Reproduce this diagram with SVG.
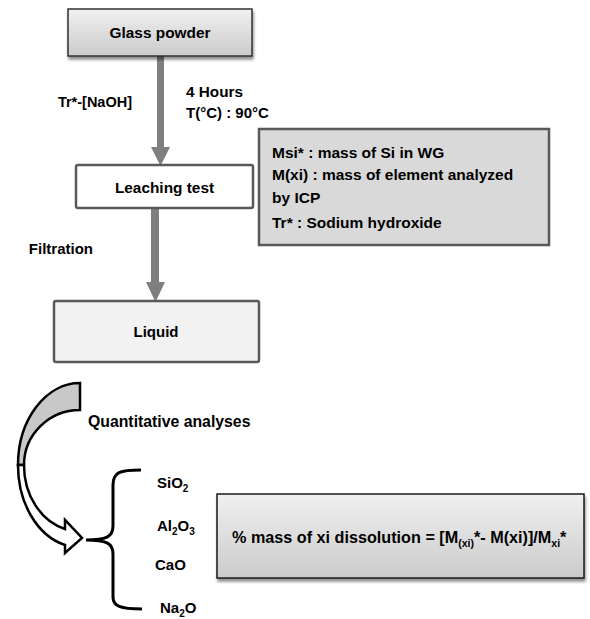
<svg xmlns="http://www.w3.org/2000/svg" width="590" height="619" viewBox="0 0 590 619">
<style>
text{font-family:"Liberation Sans",Arial,sans-serif;font-weight:bold;fill:#000}
.sub{font-size:10px}
.arrow{fill:#7f7f7f}
.box2{stroke:#595959;stroke-width:2.5}
</style>
<defs>
<linearGradient id="g1" x1="0" y1="0" x2="0" y2="1">
<stop offset="0" stop-color="#f0f0f0"/>
<stop offset="1" stop-color="#cbcbcb"/>
</linearGradient>
<filter id="sh" x="-10%" y="-10%" width="130%" height="140%">
<feGaussianBlur in="SourceAlpha" stdDeviation="1.5"/>
<feOffset dx="1" dy="3" result="b"/>
<feComponentTransfer><feFuncA type="linear" slope="0.45"/></feComponentTransfer>
<feMerge><feMergeNode/><feMergeNode in="SourceGraphic"/></feMerge>
</filter>
</defs>
<rect width="590" height="619" fill="#fff"/>

<g id="connectors">
<rect class="arrow" x="157" y="56" width="7" height="93"/>
<polygon class="arrow" points="151,147 170,147 160.5,166"/>
<rect class="arrow" x="151" y="208" width="8" height="76"/>
<polygon class="arrow" points="146,282 165,282 155.5,302"/>
<g id="curved-arrow" stroke="#000" stroke-width="2.5" stroke-linejoin="miter">
<path d="M80,383 A62,82 0 0 0 18,465 L24,465 A56,55 0 0 1 80,410 Z" fill="#c8c8c8"/>
<path d="M18,465 A62,82 0 0 0 65,545 L65,553 L82,538 L65,520 L65,529 A56,66 0 0 1 24,465 Z" fill="#fff"/>
</g>
</g>

<g id="glass-powder">
<rect x="68" y="9" width="184" height="47" fill="url(#g1)" stroke="#333" stroke-width="1.5" filter="url(#sh)"/>
<text x="160" y="38" text-anchor="middle" style="font-size:15.4px">Glass powder</text>
</g>

<g id="conditions">
<text x="132" y="107" text-anchor="end" style="font-size:14.5px">Tr*-[NaOH]</text>
<text x="186" y="97" style="font-size:15.3px">4 Hours</text>
<text x="186" y="118" style="font-size:15px">T(°C) : 90°C</text>
</g>

<g id="leaching-test">
<rect class="box2" x="76" y="165" width="177" height="43" rx="2" fill="#fff"/>
<text x="164.5" y="193" text-anchor="middle" style="font-size:15.4px">Leaching test</text>
</g>

<g id="legend">
<rect class="box2" x="259" y="129" width="290" height="116" fill="#d9d9d9"/>
<text x="272" y="158" style="font-size:15.5px">Msi* : mass of Si in WG</text>
<text x="272" y="180" style="font-size:15.5px">M(xi) : mass of element analyzed</text>
<text x="272" y="203" style="font-size:15.5px">by ICP</text>
<text x="272" y="228" style="font-size:15.5px">Tr* : Sodium hydroxide</text>
</g>

<g id="filtration">
<text x="93" y="254" text-anchor="end" style="font-size:15px">Filtration</text>
</g>

<g id="liquid">
<rect class="box2" x="54" y="301" width="205" height="61" rx="2" fill="#f2f2f2"/>
<text x="156" y="337" text-anchor="middle" style="font-size:15px">Liquid</text>
</g>

<g id="quantitative-analyses">
<text x="88" y="427" style="font-size:15.8px">Quantitative analyses</text>
</g>

<g id="bracket">
<path d="M141,470 C120,470 113,472 113,485 L113,526 C113,537 106,540 86,540 C106,540 113,543 113,554 L113,597 C113,606 120,609 142,609" fill="none" stroke="#000" stroke-width="3"/>
</g>

<g id="oxides" style="font-size:15px">
<text x="157" y="488">SiO<tspan class="sub" dy="4">2</tspan></text>
<text x="157" y="531">Al<tspan class="sub" dy="4">2</tspan><tspan dy="-4">O</tspan><tspan class="sub" dy="4">3</tspan></text>
<text x="155" y="569.5">CaO</text>
<text x="160" y="613">Na<tspan class="sub" dy="4">2</tspan><tspan dy="-4">O</tspan></text>
</g>

<g id="formula">
<rect x="217" y="494" width="367" height="84" fill="url(#g1)" stroke="#1a1a1a" stroke-width="1.5" filter="url(#sh)"/>
<text x="232" y="543" style="font-size:16.2px">% mass of xi dissolution = [M<tspan class="sub" style="font-size:10.5px" dy="4">(xi)</tspan><tspan dy="-4">*- M(xi)]/M</tspan><tspan class="sub" style="font-size:10.5px" dy="4">xi</tspan><tspan dy="-4">*</tspan></text>
</g>
</svg>
